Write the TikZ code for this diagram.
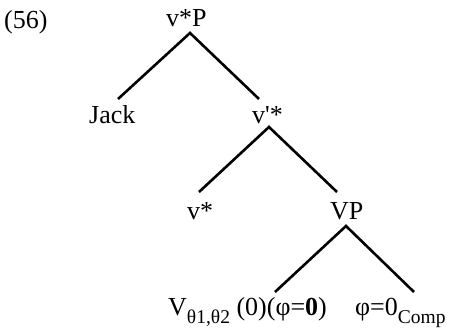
\documentclass[tikz,border=0pt]{standalone}
\usepackage{fontspec}
\setmainfont{Liberation Serif}
\newfontfamily\plainserif[Ligatures=TeXOff]{Liberation Serif}
\begin{document}
\begin{tikzpicture}[x=1pt,y=-1pt,
  lbl/.style={anchor=base west,inner sep=0pt,font=\fontsize{26}{30}\selectfont},
  branch/.style={line width=2.6pt}]
\useasboundingbox (0,0) rectangle (453,330);
\newcommand{\subtxt}[1]{\raisebox{-8pt}{\fontsize{19.5}{22}\selectfont #1}}
% labels
\node[lbl] (ex) at (4,28) {(56)};
\node[lbl] (vstarP) at (166,26) {v*P};
\node[lbl] (jack) at (89,123) {Jack};
\node[lbl] (vbar) at (252,123) {v{\plainserif '}*};
\node[lbl] (vstar) at (187,219) {v*};
\node[lbl] (vp) at (330,219) {VP};
\node[lbl] (verb) at (168,315) {V\subtxt{θ1,θ2} (0)(φ=\textbf{0})};
\node[lbl] (comp) at (355,315) {φ=0\subtxt{Comp}};
% branch points
\coordinate (vstarP-b) at (190,33);
\coordinate (jack-t) at (118,99);
\coordinate (vbar-t) at (259,99);
\coordinate (vbar-b) at (269,127);
\coordinate (vstar-t) at (199,192);
\coordinate (vp-t) at (337,192);
\coordinate (vp-b) at (346,226);
\coordinate (verb-t) at (275,292);
\coordinate (comp-t) at (414,292);
% branches
\draw[branch] (jack-t) -- (vstarP-b) -- (vbar-t);
\draw[branch] (vstar-t) -- (vbar-b) -- (vp-t);
\draw[branch] (verb-t) -- (vp-b) -- (comp-t);
\end{tikzpicture}
\end{document}
